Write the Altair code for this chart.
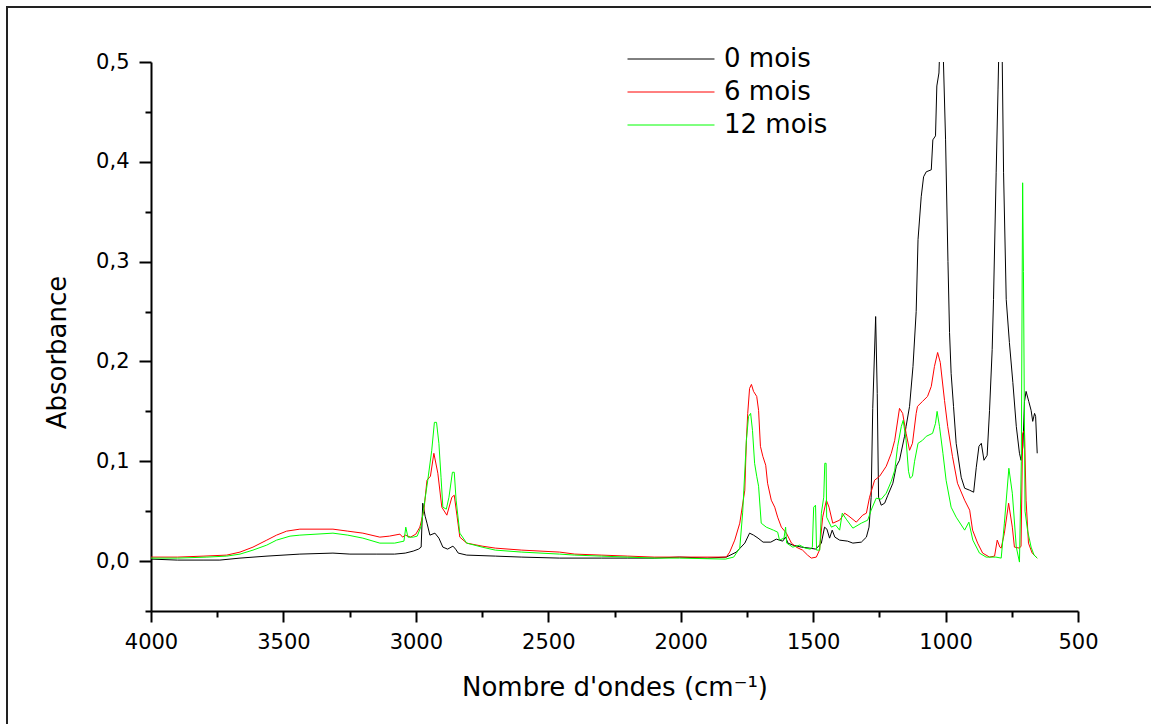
import altair as alt
import pandas as pd

# ---------------- data ----------------
series_names = ["0 mois", "6 mois", "12 mois"]
series_colors = ["#000000", "#ff0000", "#00ff00"]

black_w = [4000, 3900, 3800, 3740, 3664, 3562, 3438, 3313, 3249, 3150, 3080, 3040, 3010, 2990, 2980,
           2974, 2965, 2958, 2947, 2928, 2913, 2898, 2880, 2860, 2850, 2840, 2808, 2700, 2600, 2457,
           2300, 2200, 2100, 2004, 1900, 1828, 1790, 1758, 1740, 1725, 1708, 1689, 1660, 1639, 1615,
           1604, 1595, 1576, 1545, 1513, 1490, 1469, 1457, 1448, 1438, 1428, 1418, 1400, 1370, 1350,
           1318, 1299, 1289, 1281, 1275, 1264, 1258, 1253, 1243, 1230, 1218, 1199, 1186, 1174, 1155,
           1149, 1136, 1123, 1111, 1104, 1092, 1083, 1073, 1054, 1048, 1038, 1033, 1025, 1016, 1008,
           1000, 991, 985, 979, 970, 960, 941, 928, 909, 894, 884, 874, 865, 855, 843,
           834, 824, 819, 809, 802, 795, 786, 781, 771, 759, 746, 733, 721, 715, 708,
           702, 696, 686, 677, 671, 664, 660, 654]
black_a = [0.002, 0.001, 0.001, 0.001, 0.003, 0.005, 0.007, 0.008, 0.007, 0.007, 0.007, 0.008, 0.010, 0.012, 0.014,
           0.058, 0.045, 0.038, 0.026, 0.028, 0.023, 0.014, 0.012, 0.015, 0.012, 0.008, 0.006, 0.005, 0.004, 0.003,
           0.003, 0.003, 0.003, 0.004, 0.003, 0.004, 0.009, 0.018, 0.028, 0.026, 0.023, 0.019, 0.019, 0.022, 0.020,
           0.024, 0.018, 0.016, 0.014, 0.013, 0.012, 0.018, 0.034, 0.032, 0.023, 0.031, 0.024, 0.021, 0.020, 0.018,
           0.019, 0.024, 0.034, 0.064, 0.153, 0.245, 0.168, 0.064, 0.056, 0.058, 0.066, 0.078, 0.095, 0.101, 0.125,
           0.135, 0.155, 0.195, 0.250, 0.322, 0.365, 0.385, 0.390, 0.392, 0.422, 0.426, 0.476, 0.489, 0.560, 0.500,
           0.422, 0.300, 0.229, 0.188, 0.155, 0.118, 0.084, 0.073, 0.071, 0.069, 0.094, 0.115, 0.118, 0.101, 0.106,
           0.151, 0.212, 0.262, 0.389, 0.472, 0.560, 0.500, 0.389, 0.262, 0.219, 0.179, 0.135, 0.108, 0.101, 0.115,
           0.160, 0.170, 0.160, 0.151, 0.140, 0.148, 0.145, 0.108]

red_w = [4000, 3900, 3800, 3714, 3664, 3615, 3563, 3526, 3488, 3438, 3313, 3257, 3200, 3136, 3100,
         3060, 3050, 3040, 3020, 3000, 2985, 2970, 2958, 2945, 2932, 2917, 2902, 2883, 2864, 2855,
         2845, 2834, 2808, 2750, 2700, 2600, 2457, 2400, 2300, 2200, 2100, 2004, 1828, 1815, 1796,
         1777, 1758, 1752, 1747, 1740, 1733, 1725, 1713, 1706, 1699, 1690, 1679, 1672, 1658, 1645,
         1634, 1620, 1601, 1582, 1564, 1540, 1521, 1507, 1488, 1476, 1464, 1450, 1440, 1426, 1400,
         1381, 1365, 1337, 1313, 1299, 1287, 1268, 1249, 1224, 1205, 1192, 1174, 1162, 1149, 1136,
         1125, 1111, 1106, 1087, 1068, 1054, 1042, 1030, 1020, 1004, 992, 974, 955, 928, 909,
         898, 879, 860, 834, 815, 805, 795, 790, 778, 762, 748, 740, 721, 715, 709,
         702, 696, 687, 673, 654]
red_a = [0.004, 0.004, 0.005, 0.006, 0.009, 0.014, 0.021, 0.026, 0.030, 0.032, 0.032, 0.030, 0.028, 0.024, 0.025,
         0.027, 0.024, 0.026, 0.024, 0.027, 0.034, 0.050, 0.081, 0.085, 0.108, 0.088, 0.054, 0.046, 0.064, 0.066,
         0.046, 0.024, 0.018, 0.015, 0.013, 0.011, 0.009, 0.007, 0.006, 0.005, 0.004, 0.004, 0.004, 0.009, 0.021,
         0.038, 0.071, 0.121, 0.148, 0.173, 0.177, 0.170, 0.165, 0.151, 0.115, 0.105, 0.096, 0.078, 0.061, 0.054,
         0.044, 0.034, 0.028, 0.018, 0.014, 0.011, 0.006, 0.003, 0.004, 0.011, 0.044, 0.061, 0.054, 0.038, 0.041,
         0.048, 0.045, 0.039, 0.046, 0.048, 0.064, 0.081, 0.085, 0.095, 0.108, 0.121, 0.153, 0.148, 0.128, 0.111,
         0.118, 0.148, 0.155, 0.160, 0.165, 0.175, 0.195, 0.209, 0.199, 0.161, 0.135, 0.105, 0.078, 0.061, 0.051,
         0.031, 0.018, 0.008, 0.004, 0.005, 0.021, 0.014, 0.013, 0.028, 0.058, 0.034, 0.014, 0.013, 0.015, 0.128,
         0.131, 0.061, 0.018, 0.008, 0.003]

green_w = [4000, 3900, 3789, 3714, 3664, 3615, 3563, 3526, 3475, 3438, 3313, 3257, 3200, 3136, 3080,
           3045, 3038, 3030, 3010, 2995, 2980, 2966, 2955, 2940, 2930, 2922, 2913, 2905, 2898, 2885,
           2875, 2862, 2855, 2848, 2834, 2808, 2750, 2700, 2600, 2457, 2400, 2300, 2200, 2100, 2004,
           1831, 1800, 1777, 1766, 1752, 1744, 1736, 1729, 1721, 1713, 1706, 1696, 1677, 1650, 1634,
           1627, 1610, 1604, 1600, 1577, 1551, 1530, 1510, 1503, 1498, 1491, 1487, 1475, 1469, 1460,
           1456, 1451, 1449, 1431, 1415, 1400, 1390, 1375, 1350, 1318, 1294, 1281, 1262, 1243, 1224,
           1205, 1192, 1181, 1167, 1160, 1149, 1140, 1134, 1125, 1117, 1104, 1087, 1073, 1049, 1038,
           1032, 1023, 1010, 998, 979, 960, 928, 912, 897, 872, 847, 810, 790, 778, 761,
           748, 733, 721, 714, 709, 706, 700, 690, 677, 666, 654]
green_a = [0.003, 0.003, 0.004, 0.005, 0.007, 0.011, 0.016, 0.021, 0.025, 0.026, 0.028, 0.026, 0.023, 0.018, 0.018,
           0.020, 0.034, 0.024, 0.024, 0.025, 0.035, 0.061, 0.081, 0.111, 0.139, 0.139, 0.118, 0.084, 0.054, 0.052,
           0.064, 0.089, 0.089, 0.061, 0.028, 0.018, 0.014, 0.011, 0.009, 0.007, 0.006, 0.005, 0.004, 0.003, 0.003,
           0.002, 0.004, 0.013, 0.049, 0.121, 0.145, 0.148, 0.131, 0.098, 0.085, 0.075, 0.038, 0.034, 0.031, 0.029,
           0.021, 0.023, 0.034, 0.018, 0.014, 0.016, 0.013, 0.012, 0.014, 0.054, 0.056, 0.011, 0.011, 0.048, 0.064,
           0.098, 0.098, 0.044, 0.034, 0.036, 0.031, 0.048, 0.042, 0.033, 0.038, 0.041, 0.051, 0.063, 0.062, 0.068,
           0.080, 0.091, 0.115, 0.135, 0.141, 0.121, 0.090, 0.083, 0.085, 0.100, 0.118, 0.121, 0.125, 0.128, 0.138,
           0.150, 0.135, 0.108, 0.081, 0.054, 0.044, 0.031, 0.039, 0.021, 0.008, 0.004, 0.004, 0.003, 0.038, 0.093,
           0.068, 0.014, -0.001, 0.100, 0.379, 0.290, 0.050, 0.030, 0.014, 0.006, 0.003]

x_major = [4000, 3500, 3000, 2500, 2000, 1500, 1000, 500]
x_minor = [3750, 3250, 2750, 2250, 1750, 1250, 750]
y_major = [0.0, 0.1, 0.2, 0.3, 0.4, 0.5]
y_minor = [-0.05, 0.05, 0.15, 0.25, 0.35, 0.45]

x_title = "Nombre d'ondes (cm\u207b\u00b9)"
y_title = "Absorbance"

# ---------------- table ----------------
rows = []
for name, ws, aa in zip(series_names, [black_w, red_w, green_w], [black_a, red_a, green_a]):
    for w, a in zip(ws, aa):
        rows.append({"serie": name, "w": w, "a": a})
df = pd.DataFrame(rows)

FONT = "DejaVu Sans"
W, H = 927, 549

xscale = alt.Scale(domain=[500, 4000], reverse=True, nice=False, zero=False)
yscale = alt.Scale(domain=[-0.05, 0.5], nice=False, zero=False)

color = alt.Color(
    "serie:N",
    scale=alt.Scale(domain=series_names, range=series_colors),
    legend=alt.Legend(
        title=None, orient="none", legendX=507, legendY=-16,
        symbolType="M-4,0H4", symbolSize=473, symbolStrokeWidth=1,
        labelFont=FONT, labelFontSize=26, labelColor="black",
        labelOffset=40, rowPadding=7, padding=0,
    ),
)

x_major_axis = alt.Axis(
    values=x_major, format="d", title=x_title, orient="bottom",
    tickSize=11, labelPadding=9, titlePadding=22, labelFlush=False,
)
y_major_axis = alt.Axis(
    values=y_major, title=y_title, orient="left",
    labelExpr="replace(format(datum.value, '.1f'), '.', ',')",
    tickSize=12, labelPadding=10, titleX=-86, titleY=290, titleBaseline="alphabetic",
)
x_minor_axis = alt.Axis(values=x_minor, labels=False, title=None, orient="bottom",
                        tickSize=6, domain=False)
y_minor_axis = alt.Axis(values=y_minor, labels=False, title=None, orient="left",
                        tickSize=6, domain=False)

layers = []
for i, name in enumerate(series_names):
    if i == 0:
        enc_x = alt.X("w:Q", scale=xscale, axis=x_major_axis)
        enc_y = alt.Y("a:Q", scale=yscale, axis=y_major_axis)
    else:
        enc_x = alt.X("w:Q", scale=xscale, axis=None)
        enc_y = alt.Y("a:Q", scale=yscale, axis=None)
    layers.append(
        alt.Chart(df)
        .transform_filter(alt.datum.serie == name)
        .mark_line(clip=True, strokeWidth=1)
        .encode(x=enc_x, y=enc_y, color=color)
    )

minor = alt.Chart(df).mark_point(opacity=0).encode(
    x=alt.X("w:Q", scale=xscale, axis=x_minor_axis),
    y=alt.Y("a:Q", scale=yscale, axis=y_minor_axis),
)

frame_df = pd.DataFrame({"k": [0]})
frame_v = alt.Chart(frame_df).mark_rule(color="#222222", strokeWidth=2).encode(
    x=alt.value(-144), y=alt.value(-55), y2=alt.value(700)
)
frame_h = alt.Chart(frame_df).mark_rule(color="#222222", strokeWidth=2).encode(
    x=alt.value(-145), x2=alt.value(1010), y=alt.value(-55)
)

chart = (
    alt.layer(minor, *layers, frame_v, frame_h)
    .resolve_axis(x="independent", y="independent")
    .properties(
        width=W, height=H,
        autosize=alt.AutoSizeParams(type="none"),
        padding={"left": 151, "top": 62, "right": 73, "bottom": 113},
        background="white",
    )
    .configure_view(strokeWidth=0)
    .configure_axis(
        grid=False, domainColor="black", domainWidth=2, tickColor="black", tickWidth=2,
        labelFont=FONT, labelFontSize=21, labelColor="black",
        titleFont=FONT, titleFontSize=26, titleColor="black", titleFontWeight="normal",
    )
)

chart.save("out.html", embed_options={"renderer": "svg", "actions": False})
